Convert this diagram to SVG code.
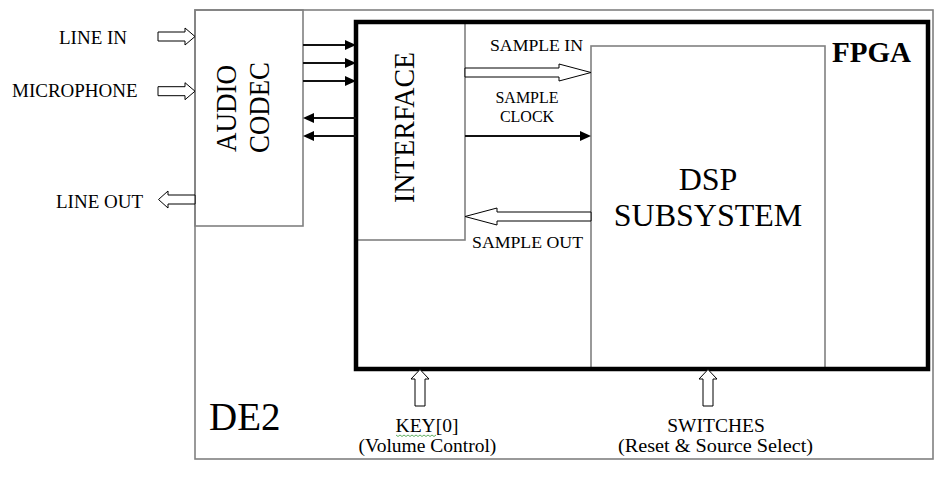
<svg xmlns="http://www.w3.org/2000/svg" width="946" height="479" viewBox="0 0 946 479">
<style>
.box{fill:none;stroke:#808080;stroke-width:1.6}
.fpga{fill:none;stroke:#000;stroke-width:4.5}
.t{font-family:'Liberation Serif','Times New Roman','DejaVu Serif',serif;fill:#000}
.hol{fill:#fff;stroke:#000;stroke-width:1}
.ln{stroke:#111;stroke-width:2;fill:none}
.hd{fill:#000}
</style>
<g id="de2">
<rect class="box" x="195" y="10" width="738" height="449"/>
<text class="t" x="209" y="430" font-size="39">DE2</text>
</g>
<g id="codec">
<rect class="box" x="195" y="10" width="108" height="216"/>
<text class="t" font-size="30" text-anchor="middle" textLength="87" lengthAdjust="spacingAndGlyphs" transform="translate(236,108.5) rotate(-90)">AUDIO</text>
<text class="t" font-size="30" text-anchor="middle" textLength="91" lengthAdjust="spacingAndGlyphs" transform="translate(269,107.5) rotate(-90)">CODEC</text>
</g>
<g id="interface">
<rect class="box" x="356" y="22" width="109" height="218"/>
<text class="t" font-size="29" text-anchor="middle" textLength="151" lengthAdjust="spacingAndGlyphs" transform="translate(414,127.5) rotate(-90)">INTERFACE</text>
</g>
<g id="dsp">
<rect class="box" x="591" y="46" width="234" height="323"/>
<text class="t" x="708" y="190" font-size="32" text-anchor="middle">DSP</text>
<text class="t" x="708" y="226" font-size="32" text-anchor="middle">SUBSYSTEM</text>
</g>
<g id="fpga">
<rect class="fpga" x="356" y="22" width="572" height="347"/>
<text class="t" x="832" y="62" font-size="28.5" font-weight="bold" textLength="79" lengthAdjust="spacingAndGlyphs">FPGA</text>
</g>
<g id="inputs">
<text class="t" x="59" y="43.5" font-size="19">LINE IN</text>
<text class="t" x="12" y="97" font-size="19">MICROPHONE</text>
<text class="t" x="56" y="207.5" font-size="19">LINE OUT</text>
</g>
<g id="controls">
<text class="t" x="427" y="432" font-size="19.5" text-anchor="middle">KEY[0]</text>
<path d="M396,435 l2,1.5 l2,-1.5 l2,1.5 l2,-1.5 l2,1.5 l2,-1.5 l2,1.5 l2,-1.5 l2,1.5 l2,-1.5 l2,1.5 l2,-1.5 l2,1.5 l2,-1.5 l2,1.5 l2,-1.5 l2,1.5 l2,-1.5 l2,1.5 l2,-1.5" fill="none" stroke="#3a9a3a" stroke-width="0.8"/>
<text class="t" x="427.5" y="452" font-size="19.5" text-anchor="middle">(Volume Control)</text>
<text class="t" x="716" y="432" font-size="19.5" text-anchor="middle">SWITCHES</text>
<text class="t" x="715.5" y="452" font-size="19.5" text-anchor="middle" textLength="195" lengthAdjust="spacingAndGlyphs">(Reset &amp; Source Select)</text>
</g>
<g id="connectors">
<polygon class="hol" points="158,32 185,32 185,28 195,36.5 185,45 185,41 158,41"/>
<polygon class="hol" points="158,86.7 185,86.7 185,82.7 195,91.2 185,99.7 185,95.7 158,95.7"/>
<polygon class="hol" points="195,195 168,195 168,191 158.5,199.5 168,208 168,204 195,204"/>
<line class="ln" x1="303" y1="45" x2="346" y2="45"/>
<polygon class="hd" points="345,40 356,45 345,50"/>
<line class="ln" x1="303" y1="63" x2="346" y2="63"/>
<polygon class="hd" points="345,58 356,63 345,68"/>
<line class="ln" x1="303" y1="81" x2="346" y2="81"/>
<polygon class="hd" points="345,76 356,81 345,86"/>
<line class="ln" x1="313" y1="118" x2="356" y2="118"/>
<polygon class="hd" points="314,113 303,118 314,123"/>
<line class="ln" x1="313" y1="136" x2="356" y2="136"/>
<polygon class="hd" points="314,131 303,136 314,141"/>
<polygon class="hol" points="465,68 559,68 559,64 591,72.5 559,81 559,77 465,77"/>
<text class="t" x="490" y="51" font-size="16" textLength="93" lengthAdjust="spacingAndGlyphs">SAMPLE IN</text>
<text class="t" x="527" y="103" font-size="16" text-anchor="middle">SAMPLE</text>
<text class="t" x="527" y="122" font-size="16" text-anchor="middle">CLOCK</text>
<line class="ln" x1="465" y1="136" x2="581" y2="136"/>
<polygon class="hd" points="580,131 591,136 580,141"/>
<polygon class="hol" points="591,212 497,212 497,208 465,216.5 497,225 497,221 591,221"/>
<text class="t" x="472" y="248" font-size="16" textLength="111" lengthAdjust="spacingAndGlyphs">SAMPLE OUT</text>
<polygon class="hol" points="415,406 415,379 411,379 420,369.5 429,379 425,379 425,406"/>
<polygon class="hol" points="703,406 703,379 699,379 708,369.5 717,379 713,379 713,406"/>
</g>
</svg>
